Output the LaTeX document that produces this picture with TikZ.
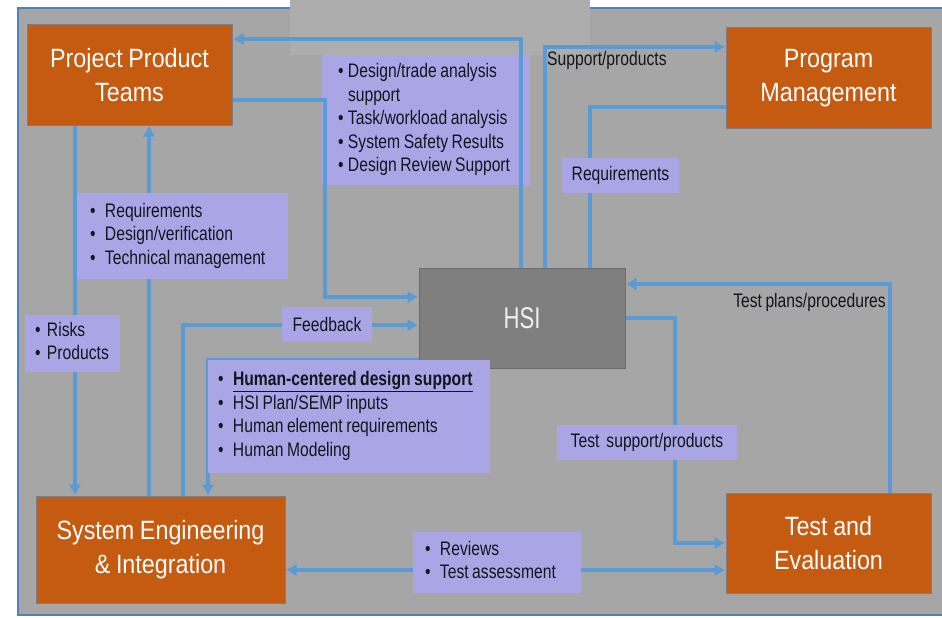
\documentclass[tikz,border=0pt]{standalone}
\usepackage{fontspec}
\setmainfont{Liberation Sans}
\newfontfamily\lblfont{Liberation Sans}[FakeStretch=0.8, WordSpace=0.8]
\newfontfamily\ttlfont{Liberation Sans}[FakeStretch=0.88, WordSpace=0.88]
\newfontfamily\hsifont{Liberation Sans}[FakeStretch=0.74]
\usetikzlibrary{arrows.meta}
\definecolor{bggray}{HTML}{A6A6A6}
\definecolor{stripgray}{HTML}{ADADAD}
\definecolor{framblue}{HTML}{4F81BD}
\definecolor{orng}{HTML}{C55A11}
\definecolor{boxedge}{HTML}{7A7F88}
\definecolor{hsigray}{HTML}{7F7F7F}
\definecolor{lav}{HTML}{AAA6E6}
\definecolor{linkblue}{HTML}{5B9BD5}
\definecolor{lbltext}{HTML}{15151F}
\newcommand{\bul}[2]{\makebox[#1][l]{•}#2}
\newcommand{\lblines}[2]{\makebox[#1][l]{\begin{tabular}{@{}l@{}}#2\end{tabular}}}
\tikzset{
  mainbox/.style={rectangle, fill=orng, draw=boxedge, line width=1pt, text=white,
    font=\ttlfont\fontsize{26.5}{34}\selectfont, align=center, inner sep=0pt},
  hsibox/.style={rectangle, fill=hsigray, draw=hsigray!85!black, line width=1pt, text=white!94!black,
    font=\hsifont\fontsize{30}{34}\selectfont, inner sep=0pt},
  lbl/.style={rectangle, fill=lav, text=lbltext, font=\lblfont\fontsize{19.6}{23.5}\selectfont,
    inner ysep=0pt},
  plaintext/.style={text=lbltext, font=\lblfont\fontsize{19.6}{23.5}\selectfont, inner sep=0pt},
  conn/.style={draw=linkblue, line width=3.2pt},
  arr/.style={conn, -{Triangle[length=10pt,width=11pt]}, shorten >=1pt},
  arrboth/.style={conn, {Triangle[length=10pt,width=11pt]}-{Triangle[length=10pt,width=11pt]}, shorten >=1pt, shorten <=1pt},
}
\begin{document}
\begin{tikzpicture}[x=1pt,y=-1pt]
\useasboundingbox (0,0) rectangle (942,618);
\fill[white] (0,0) rectangle (942,618);
\fill[bggray] (18,8) rectangle (946,615);
\draw[framblue, line width=1.6pt] (946,8) -- (18,8) -- (18,615) -- (946,615);
\fill[stripgray] (290,0) rectangle (590,55);

% main boxes
\node[mainbox, minimum width=205pt, minimum height=100pt] (ppt) at (129.5,75) {Project Product\\Teams};
\node[mainbox, minimum width=205pt, minimum height=100pt] (pm) at (828.5,78) {Program\\Management};
\node[hsibox, minimum width=206pt, minimum height=100pt] (hsi) at (522,318) {HSI};
\node[mainbox, minimum width=249pt, minimum height=107pt] (se) at (160.5,549.5) {System Engineering\\\& Integration};
\node[mainbox, minimum width=205pt, minimum height=100pt] (te) at (828.5,543) {Test and\\Evaluation};

% label under the connectors
\node[lbl, minimum width=208pt, minimum height=130pt, inner xsep=16pt] (design) at (426,120)
  {\lblines{176pt}{\bul{10pt}{Design/trade analysis}\\\hspace*{10pt}support\\\bul{10pt}{Task/workload analysis}\\\bul{10pt}{System Safety Results}\\\bul{10pt}{Design Review Support}}};

% connectors
\draw[arr] (hsi.north -| 521,0) -- (521,39) -- (ppt.east |- 0,39);
\draw[arr] (hsi.north -| 545,0) -- (545,47) -- (pm.west |- 0,47);
\draw[conn] (hsi.north -| 590,0) -- (590,107) -- (pm.west |- 0,107);
\draw[arr] (ppt.east |- 0,100) -- (325,100) -- (325,297) -- (hsi.west |- 0,297);
\draw[arr] (se.north -| 183,0) -- (183,325) -- (hsi.west |- 0,325);
\draw[arr] (hsi.west |- 0,360) -- (208,360) -- (se.north -| 208,0);
\draw[arr] (ppt.south -| 75,0) -- (se.north -| 75,0);
\draw[arr] (se.north -| 149,0) -- (ppt.south -| 149,0);
\draw[arrboth] (se.east |- 0,570) -- (te.west |- 0,570);
\draw[arr] (hsi.east |- 0,318) -- (675,318) -- (675,543) -- (te.west |- 0,543);
\draw[arr] (te.north -| 890,0) -- (890,284) -- (hsi.east |- 0,284);

% labels over the connectors
\node[plaintext, anchor=west] (suppprod) at (547,60) {Support/products};
\node[lbl, minimum width=117pt, minimum height=35pt, inner xsep=0pt] (reqpm) at (620.5,175.5) {Requirements};
\node[lbl, minimum width=211pt, minimum height=86pt, inner xsep=13pt] (reqppt) at (182.5,236)
  {\lblines{185pt}{\bul{15pt}{Requirements}\\\bul{15pt}{Design/verification}\\\bul{15pt}{Technical management}}};
\node[lbl, minimum width=95pt, minimum height=57pt, inner xsep=10pt] (risks) at (72.5,343.5)
  {\lblines{75pt}{\bul{12pt}{Risks}\\\bul{12pt}{Products}}};
\node[lbl, minimum width=90pt, minimum height=35pt, inner xsep=0pt] (feedback) at (327,324.5) {Feedback};
\node[lbl, minimum width=282pt, minimum height=113pt, inner xsep=10pt] (human) at (349,416.5)
  {\lblines{262pt}{\bul{15pt}{\underline{\textbf{Human-centered design support}}}\\\bul{15pt}{HSI Plan/SEMP inputs}\\\bul{15pt}{Human element requirements}\\\bul{15pt}{Human Modeling}}};
\node[lbl, minimum width=180pt, minimum height=35pt, inner xsep=0pt] (testsupp) at (647,442.5) {Test\ \ support/products};
\node[plaintext, anchor=east] (testplans) at (886,302) {Test plans/procedures};
\node[lbl, minimum width=168pt, minimum height=61pt, inner xsep=12pt] (reviews) at (497,562.5)
  {\lblines{144pt}{\bul{15pt}{Reviews}\\\bul{15pt}{Test assessment}}};
\end{tikzpicture}
\end{document}
